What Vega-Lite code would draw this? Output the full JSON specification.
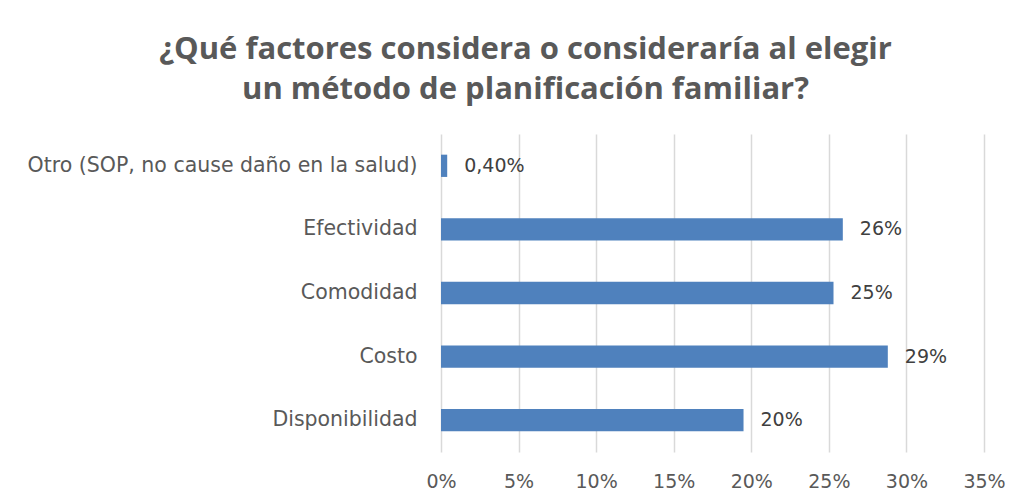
{
  "$schema": "https://vega.github.io/schema/vega-lite/v6.json",
  "width": 543,
  "height": 318,
  "autosize": "none",
  "padding": {"left": 441, "top": 134, "right": 40, "bottom": 48},
  "background": "white",
  "title": {
    "text": ["¿Qué factores considera o consideraría al elegir", "un método de planificación familiar?"],
    "font": "Open Sans",
    "fontSize": 31,
    "fontWeight": "bold",
    "color": "#595959",
    "anchor": "middle",
    "frame": "group",
    "dx": -187,
    "offset": 28,
    "lineHeight": 40
  },
  "data": {
    "values": [
      {"factor": "Otro (SOP, no cause daño en la salud)", "value": 0.004, "label": "0,40%"},
      {"factor": "Efectividad", "value": 0.259, "label": "26%"},
      {"factor": "Comodidad", "value": 0.253, "label": "25%"},
      {"factor": "Costo", "value": 0.288, "label": "29%"},
      {"factor": "Disponibilidad", "value": 0.195, "label": "20%"}
    ]
  },
  "encoding": {
    "y": {
      "field": "factor",
      "type": "nominal",
      "sort": null,
      "scale": {"paddingInner": 0.65, "paddingOuter": 0.325},
      "axis": {
        "title": null,
        "domain": false,
        "ticks": false,
        "labelFont": "DejaVu Sans",
        "labelFontSize": 20.5,
        "labelColor": "#595959",
        "labelPadding": 24,
        "labelLimit": 500
      }
    },
    "x": {
      "field": "value",
      "type": "quantitative",
      "scale": {"domain": [0, 0.35], "nice": false},
      "axis": {
        "title": null,
        "format": ".0%",
        "values": [0, 0.05, 0.1, 0.15, 0.2, 0.25, 0.3, 0.35],
        "domain": false,
        "ticks": false,
        "grid": true,
        "gridColor": "#d9d9d9",
        "gridWidth": 1.5,
        "labelFlush": false,
        "labelOverlap": false,
        "labelFont": "DejaVu Sans",
        "labelFontSize": 19,
        "labelColor": "#595959",
        "labelPadding": 20
      }
    }
  },
  "layer": [
    {"mark": {"type": "bar", "color": "#4F81BD"}},
    {
      "mark": {"type": "text", "align": "left", "dx": 17, "font": "DejaVu Sans", "fontSize": 19, "color": "#404040"},
      "encoding": {"text": {"field": "label"}}
    }
  ],
  "config": {"view": {"stroke": null}}
}
